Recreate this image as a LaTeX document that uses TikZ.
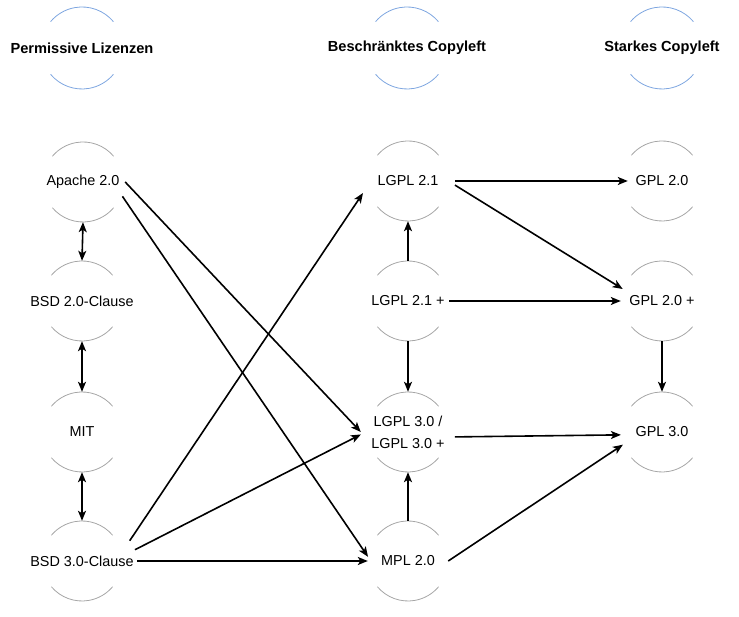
\documentclass[tikz,border=0pt]{standalone}
\usepackage{fontspec}
\setmainfont{Liberation Sans}
\usetikzlibrary{shapes.geometric, arrows.meta}

\definecolor{ringgray}{RGB}{166,166,166}
\definecolor{ringblue}{RGB}{126,166,224}

\begin{document}
\begin{tikzpicture}[x=1pt, y=1pt]

\tikzset{lic/.style = {shape=ellipse, minimum width=80pt, minimum height=80pt, inner xsep=-20pt, align=center, font=\fontsize{14.4}{22}\selectfont}}
\tikzset{head/.style = {font=\fontsize{14.6}{17}\selectfont\bfseries}}
\tikzset{edge/.style = {->, > = {Stealth[length=10pt, width=8pt, inset=2.5pt]}, line width=1.6pt}}
\tikzset{ring/.style = {draw=ringgray, line width=0.8pt}}

\useasboundingbox (0,0) rectangle (739,617);

% headers
\node[head] (perm) at (82,569) {Permissive Lizenzen};
\node[head] (beschr) at (407,569) {Beschränktes Copyleft};
\node[head] (stark) at (662,569) {Starkes Copyleft};
% licences
\node[lic, minimum width=84pt] (apache) at (83,435) {Apache 2.0};
\node[lic, minimum width=110pt] (bsdtwo) at (82,316) {BSD 2.0-Clause};
\node[lic] (mit) at (82,185) {MIT};
\node[lic, minimum width=110pt] (bsdthree) at (82,56) {BSD 3.0-Clause};
\node[lic, minimum width=94pt] (lgpltwo) at (408,436) {LGPL 2.1};
\node[lic, minimum width=82pt] (lgpltwoplus) at (408,316) {LGPL 2.1 +};
\node[lic, minimum width=94pt] (lgplthree) at (408,185) {LGPL 3.0 /\\LGPL 3.0 +};
\node[lic] (mpl) at (408,56) {MPL 2.0};
\node[lic, minimum width=68pt] (gpltwo) at (662,436) {GPL 2.0};
\node[lic, minimum width=82pt] (gpltwoplus) at (662,316) {GPL 2.0 +};
\node[lic, minimum width=82pt] (gplthree) at (662,185) {GPL 3.0};
% rings
\foreach \n in {perm, beschr, stark} {
  \draw[ring, draw=ringblue] (\n.center) ++(40:41) arc[start angle=40, end angle=140, radius=41];
  \draw[ring, draw=ringblue] (\n.center) ++(220:41) arc[start angle=220, end angle=320, radius=41];
}
\foreach \n in {apache, bsdtwo, mit, bsdthree, lgpltwo, lgpltwoplus, lgplthree, mpl, gpltwo, gpltwoplus, gplthree} {
  \draw[ring] (\n.center) ++(40:40) arc[start angle=40, end angle=140, radius=40];
  \draw[ring] (\n.center) ++(220:40) arc[start angle=220, end angle=320, radius=40];
}
%edges
\draw[edge, <->] (apache.south) -- (bsdtwo.north);
\draw[edge, <->] (bsdtwo.south) -- (mit.north);
\draw[edge, <->] (mit.south) -- (bsdthree.north);

\draw[edge] (apache.east) -- (lgplthree.west);
\draw[edge] (apache.-20) -- (mpl.174);
\draw[edge] (bsdthree.23) -- (lgpltwo.195);
\draw[edge] (bsdthree.12) -- (lgplthree.183);
\draw[edge] (bsdthree.east) -- (mpl.west);

\draw[edge] (lgpltwoplus.north) -- (lgpltwo.south);
\draw[edge] (lgpltwoplus.south) -- (lgplthree.north);
\draw[edge] (mpl.north) -- (lgplthree.south);

\draw[edge] (lgpltwo.east) -- (gpltwo.west);
\draw[edge] (lgpltwo.-5) -- (gpltwoplus.163);
\draw[edge] (lgpltwoplus.east) -- (gpltwoplus.west);
\draw[edge] (lgplthree.-6) -- (gplthree.184);
\draw[edge] (mpl.east) -- (gplthree.198);
\draw[edge] (gpltwoplus.south) -- (gplthree.north);

\end{tikzpicture}
\end{document}
